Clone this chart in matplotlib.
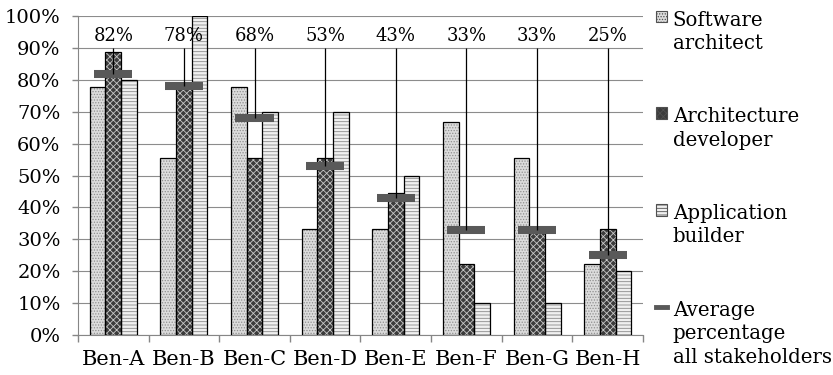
import numpy as np
import matplotlib.pyplot as plt
from matplotlib.patches import Patch
from matplotlib.lines import Line2D

plt.rcParams['font.family'] = ['DejaVu Serif']
plt.rcParams['hatch.linewidth'] = 0.6

categories = ['Ben-A', 'Ben-B', 'Ben-C', 'Ben-D', 'Ben-E', 'Ben-F', 'Ben-G', 'Ben-H']
software_architect = [77.8, 55.6, 77.8, 33.3, 33.3, 66.7, 55.6, 22.2]
architecture_developer = [88.9, 77.8, 55.6, 55.6, 44.4, 22.2, 33.3, 33.3]
application_builder = [80, 100, 70, 70, 50, 10, 10, 20]
average_all = [82, 78, 68, 53, 43, 33, 33, 25]

series = [
    ('Software\narchitect', software_architect, '#dcdcdc', '#8f8f8f', '......'),
    ('Architecture\ndeveloper', architecture_developer, '#3c3c3c', '#c8c8c8', 'xxxxx'),
    ('Application\nbuilder', application_builder, '#f0f0f0', '#8a8a8a', '-----'),
]

fig = plt.figure(figsize=(8.33, 3.75), dpi=100)
ax = fig.add_axes([0.0936, 0.1067, 0.6783, 0.850])

x = np.arange(len(categories))
w = 0.222
handles = []
for i, (name, vals, fc, hc, hatch) in enumerate(series):
    pos = x + (i - 1) * w
    # hatch layer, then outline
    ax.bar(pos, vals, w, color=fc, edgecolor=hc, hatch=hatch, linewidth=0, zorder=2)
    ax.bar(pos, vals, w, fill=False, edgecolor='black', linewidth=0.9, zorder=3)
    handles.append(Patch(facecolor=fc, edgecolor='#505050', hatch=hatch, linewidth=0.8))

# average markers with leader lines and labels
ax.hlines(average_all, x - 0.27, x + 0.27, colors='#595959', linewidth=5.8, zorder=4)
ax.vlines(x, average_all, 90, colors='black', linewidth=0.9, zorder=5)
for xi, a in zip(x, average_all):
    ax.text(xi, 93.8, f'{a}%', ha='center', va='center', fontsize=13, zorder=6)
handles.append(Line2D([0], [0], color='#595959', linewidth=3.5))

ax.set_xlim(-0.5, len(categories) - 0.5)
ax.set_ylim(0, 100)
ax.set_yticks(np.arange(0, 101, 10))
ax.set_yticklabels([f'{v}%' for v in range(0, 101, 10)])
ax.set_xticks(x)
ax.set_xticklabels(categories)
ax.set_xticks(np.arange(-0.5, len(categories), 1), minor=True)
ax.tick_params(axis='x', which='major', length=0, pad=11, labelsize=15)
ax.tick_params(axis='x', which='minor', length=5, color='#868686', width=1)
ax.tick_params(axis='y', length=4.5, color='#868686', width=1, pad=8, labelsize=14)

ax.grid(axis='y', color='#8c8c8c', linewidth=0.8, zorder=0)
ax.set_axisbelow(True)
for s in ['top', 'right']:
    ax.spines[s].set_visible(False)
for s in ['left', 'bottom']:
    ax.spines[s].set_color('#868686')

labels = [s[0] for s in series] + ['Average\npercentage\nall stakeholders']
leg = ax.legend(handles, labels, loc='upper left', bbox_to_anchor=(1.023, 1.018),
                frameon=False, fontsize=14.2, borderpad=0, borderaxespad=0,
                handlelength=0.55, handleheight=0.55, handletextpad=0.3,
                labelspacing=2.75)
for t in leg.get_texts():
    t.set_linespacing(1.3)
# put each legend key next to the first line of its label
for col in leg._legend_handle_box.get_children():
    for item in col.get_children():
        item.align = 'top'

fig.savefig('out.png', dpi=100)
